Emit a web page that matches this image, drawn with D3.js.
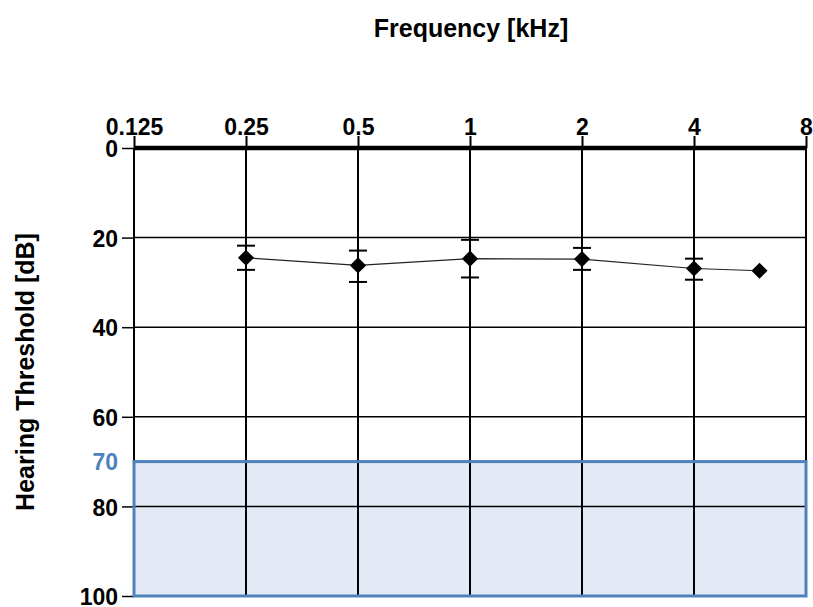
<!DOCTYPE html>
<html><head><meta charset="utf-8">
<script src="https://cdn.jsdelivr.net/npm/d3@7"></script>
<style>body{margin:0;background:#fff}svg{display:block;font-family:"Liberation Sans",Arial,sans-serif;font-weight:bold}</style>
</head><body>
<svg id="c" width="813" height="607"></svg>
<script>
const freqTicks = [0.125, 0.25, 0.5, 1, 2, 4, 8];
const freqTickLabels = ["0.125", "0.25", "0.5", "1", "2", "4", "8"];
const dbTicks = [0, 20, 40, 60, 80, 100];
const freqs = [0.25, 0.5, 1, 2, 4, 6];
const thresholds = [24.5, 26.2, 24.7, 24.8, 26.9, 27.4];
const errLow = [21.8, 22.9, 20.5, 22.3, 24.7, null];
const errHigh = [27.2, 29.9, 28.9, 27.2, 29.4, null];
const zoneStart = 70, zoneEnd = 100;

const svg = d3.select("#c");
const x = d3.scaleLog().base(2).domain([0.125, 8]).range([134, 806]);
const y = d3.scaleLinear().domain([0, 100]).range([148, 596]);

// shaded zone
svg.append("rect").attr("x", x(0.125)).attr("y", y(zoneStart))
  .attr("width", x(8) - x(0.125)).attr("height", y(zoneEnd) - y(zoneStart))
  .attr("fill", "#e4eaf5");

// horizontal grid + left ticks
const yAxis = d3.axisLeft(y).tickValues(dbTicks).tickSize(12).tickFormat(d3.format("d"));
const gy = svg.append("g").attr("transform", `translate(${x(0.125)},0)`).call(yAxis);
gy.select(".domain").remove();
gy.selectAll(".tick line").attr("stroke", "#000").attr("stroke-width", 1.5);
gy.selectAll(".tick text").attr("font-size", 23).attr("font-weight", "bold").attr("fill", "#000").attr("x", -16).attr("dy", "0.38em");
svg.append("g").selectAll("line").data(dbTicks.filter(d => d > 0 && d < 100)).join("line")
  .attr("x1", x(0.125)).attr("x2", x(8)).attr("y1", d => y(d)).attr("y2", d => y(d))
  .attr("stroke", "#000").attr("stroke-width", 1.5);

// vertical grid
svg.append("g").selectAll("line").data(freqTicks).join("line")
  .attr("x1", d => x(d)).attr("x2", d => x(d)).attr("y1", y(0)).attr("y2", y(100))
  .attr("stroke", "#000").attr("stroke-width", 2);

// top axis
const xAxis = d3.axisTop(x).tickValues(freqTicks).tickSize(12).tickFormat((d, i) => freqTickLabels[i]);
const gx = svg.append("g").attr("transform", `translate(0,${y(0)})`).call(xAxis);
gx.select(".domain").remove();
gx.selectAll(".tick line").attr("stroke", "#000").attr("stroke-width", 2);
gx.selectAll(".tick text").attr("font-size", 23).attr("font-weight", "bold").attr("fill", "#000").attr("y", -13);
svg.append("line").attr("x1", x(0.125)).attr("x2", x(8)).attr("y1", y(0)).attr("y2", y(0))
  .attr("stroke", "#000").attr("stroke-width", 4.5);

// zone border
svg.append("rect").attr("x", x(0.125)).attr("y", y(zoneStart))
  .attr("width", x(8) - x(0.125)).attr("height", y(zoneEnd) - y(zoneStart))
  .attr("fill", "none").attr("stroke", "#4f81bd").attr("stroke-width", 3);
svg.append("text").attr("x", x(0.125) - 16).attr("y", y(zoneStart)).attr("dy", "0.38em")
  .attr("text-anchor", "end").attr("font-size", 23).attr("fill", "#4f81bd").text(zoneStart);

// data line
svg.append("path").datum(freqs.map((f, i) => [f, thresholds[i]]))
  .attr("d", d3.line().x(d => x(d[0])).y(d => y(d[1])))
  .attr("fill", "none").attr("stroke", "#222").attr("stroke-width", 1.2);

// error bars
const eb = svg.append("g");
freqs.forEach((f, i) => {
  if (errLow[i] == null) return;
  [errLow[i], errHigh[i]].forEach(v => {
    eb.append("line").attr("x1", x(f) - 9).attr("x2", x(f) + 9).attr("y1", y(v)).attr("y2", y(v))
      .attr("stroke", "#000").attr("stroke-width", 2);
  });
});

// markers
svg.append("g").selectAll("path").data(freqs).join("path")
  .attr("transform", (d, i) => `translate(${x(d)},${y(thresholds[i])}) rotate(45)`)
  .attr("d", "M-5.7,-5.7H5.7V5.7H-5.7Z").attr("fill", "#000");

// titles
svg.append("text").attr("x", 471).attr("y", 37).attr("text-anchor", "middle")
  .attr("font-size", 25).attr("fill", "#000").text("Frequency [kHz]");
svg.append("text").attr("transform", `translate(34,372) rotate(-90)`).attr("text-anchor", "middle")
  .attr("font-size", 25).attr("fill", "#000").text("Hearing Threshold [dB]");
</script>
</body></html>
